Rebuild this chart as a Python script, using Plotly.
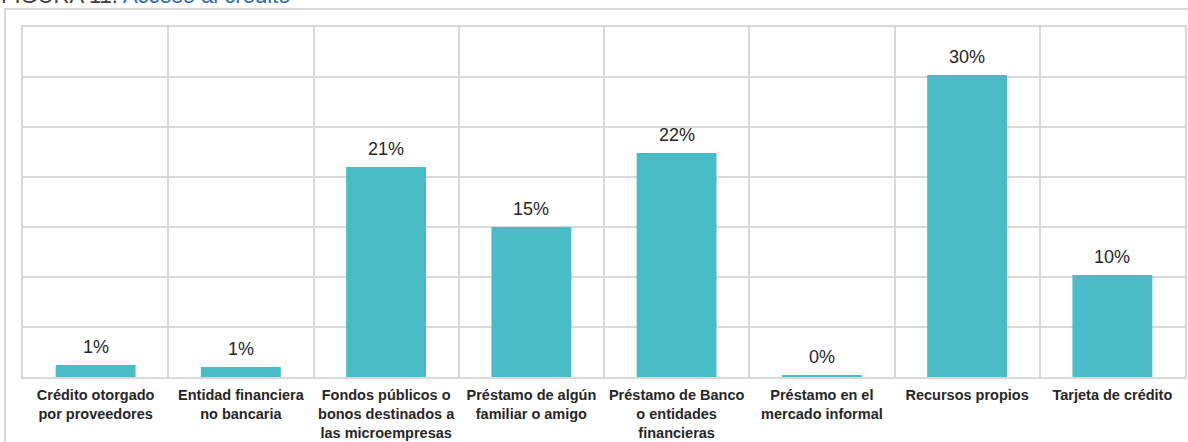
import plotly.graph_objects as go

# Fuentes de financiamiento (porcentaje de respuestas)
categorias = [
    "Crédito otorgado<br>por proveedores",
    "Entidad financiera<br>no bancaria",
    "Fondos públicos o<br>bonos destinados a<br>las microempresas",
    "Préstamo de algún<br>familiar o amigo",
    "Préstamo de Banco<br>o entidades<br>financieras",
    "Préstamo en el<br>mercado informal",
    "Recursos propios",
    "Tarjeta de crédito",
]
porcentajes = [1.2, 1.0, 21.0, 15.0, 22.4, 0.2, 30.2, 10.2]

W, H = 1188, 442
ML, MR, MT, MB = 23, 1, 27, 65
PW, PH = W - ML - MR, H - MT - MB

GRID = "#d9d9d9"
TEXT = "#262626"
FONT = "Liberation Sans, Arial, sans-serif"

fig = go.Figure(
    go.Bar(
        x=categorias,
        y=porcentajes,
        marker=dict(color="#48bdc8", line=dict(width=0)),
        hoverinfo="skip",
    )
)

# Etiquetas de valor sobre cada barra
for cat, val in zip(categorias, porcentajes):
    fig.add_annotation(
        x=cat,
        y=val,
        xref="x",
        yref="y",
        text=f"{val:.0f}%",
        showarrow=False,
        yanchor="bottom",
        yshift=6,
        font=dict(size=18, color=TEXT, family=FONT),
    )

fig.update_layout(
    width=W,
    height=H,
    margin=dict(l=ML, r=MR, t=MT, b=MB),
    paper_bgcolor="white",
    plot_bgcolor="white",
    bargap=0.45,
    showlegend=False,
    font=dict(family=FONT, color=TEXT),
)

fig.update_xaxes(
    type="category",
    tickson="boundaries",
    showgrid=True,
    gridcolor=GRID,
    gridwidth=2,
    showline=True,
    linecolor=GRID,
    linewidth=2,
    mirror=True,
    ticks="",
    tickfont=dict(size=14.5, color=TEXT, family=FONT),
    tickangle=0,
    ticklabelstandoff=4,
    tickprefix="<b>",
    ticksuffix="</b>",
)

fig.update_yaxes(
    range=[0, 35],
    dtick=5,
    showgrid=True,
    gridcolor=GRID,
    gridwidth=2,
    zeroline=False,
    showline=True,
    linecolor=GRID,
    linewidth=2,
    mirror=True,
    showticklabels=False,
    ticks="",
)

# Marco exterior de la figura
fig.add_shape(
    type="rect",
    xref="paper",
    yref="paper",
    x0=(5 - ML) / PW,
    x1=(W + 20 - ML) / PW,
    y0=-(H + 20 - MT - PH) / PH,
    y1=1 + (MT - 9) / PH,
    line=dict(color=GRID, width=2),
    fillcolor="rgba(0,0,0,0)",
    layer="below",
)

# Título de la figura
fig.add_annotation(
    xref="paper",
    yref="paper",
    x=-ML / PW,
    y=1 + (MT - 9) / PH,
    xanchor="left",
    yanchor="bottom",
    showarrow=False,
    align="left",
    borderpad=0,
    text="<span style='color:#404040'>FIGURA 11.</span> "
         "<span style='color:#2e6db4'>Acceso al crédito</span>",
    font=dict(size=22, family=FONT),
)

fig.write_html("out.html")
